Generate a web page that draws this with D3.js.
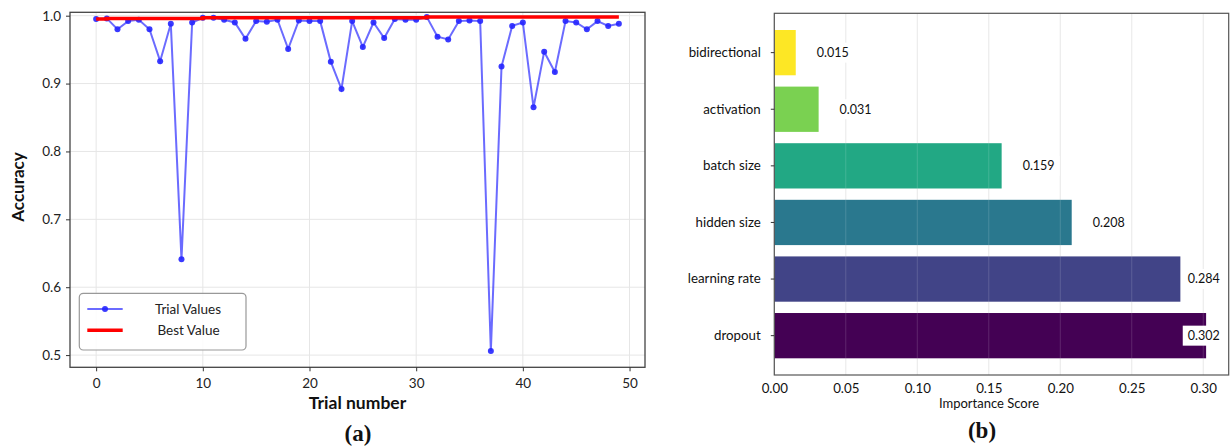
<!DOCTYPE html>
<html><head><meta charset="utf-8">
<script src="https://cdn.jsdelivr.net/npm/d3@7"></script>
<style>
html,body{margin:0;padding:0;background:#fff;}
svg{display:block;font-family:Lato,"Open Sans",sans-serif;}
</style></head>
<body>
<svg id="c" width="1232" height="447"></svg>
<script>
// ---- Data ----
const trialNumbers = d3.range(50);
const trialValues = [0.995,0.996,0.980,0.992,0.994,0.980,0.933,0.988,0.641,0.990,
  0.997,0.997,0.994,0.990,0.966,0.992,0.991,0.994,0.951,0.993,
  0.992,0.992,0.932,0.892,0.992,0.954,0.990,0.967,0.995,0.994,
  0.994,0.998,0.969,0.965,0.992,0.993,0.992,0.506,0.925,0.985,
  0.990,0.865,0.947,0.917,0.992,0.990,0.980,0.992,0.985,0.988];
const accTicks = [0.5,0.6,0.7,0.8,0.9,1.0];
const trialTicks = [0,10,20,30,40,50];
const params = ["bidirectional","activation","batch size","hidden size","learning rate","dropout"];
const importance = [0.015,0.031,0.159,0.208,0.284,0.302];
const barColors = ["#fde725","#7ad151","#22a884","#2a788e","#414487","#440154"];
const scoreTicks = [0.00,0.05,0.10,0.15,0.20,0.25,0.30];

const svg = d3.select("#c");

// ===== Left chart =====
const L = {x0:70, x1:645, y0:12.3, y1:367.3};
const x = d3.scaleLinear().domain([-2.45,51.45]).range([L.x0,L.x1]);
const y = d3.scaleLinear().domain([0.482,1.005]).range([L.y1,L.y0]);
const gl = svg.append("g");

// grid
gl.append("g").selectAll("line").data(trialTicks).join("line")
  .attr("x1",d=>x(d)).attr("x2",d=>x(d)).attr("y1",L.y0).attr("y2",L.y1)
  .attr("stroke","#e6e6e6").attr("stroke-width",1);
gl.append("g").selectAll("line").data(accTicks).join("line")
  .attr("x1",L.x0).attr("x2",L.x1).attr("y1",d=>y(d)).attr("y2",d=>y(d))
  .attr("stroke","#e6e6e6").attr("stroke-width",1);

// trial line
const pts = trialNumbers.map((t,i)=>[t,trialValues[i]]);
gl.append("path").datum(pts)
  .attr("d",d3.line().x(d=>x(d[0])).y(d=>y(d[1])))
  .attr("fill","none").attr("stroke","#3a3aff").attr("stroke-opacity",0.75).attr("stroke-width",2);
gl.append("g").selectAll("circle").data(pts).join("circle")
  .attr("cx",d=>x(d[0])).attr("cy",d=>y(d[1])).attr("r",3)
  .attr("fill","#2525ff").attr("fill-opacity",0.9);

// best value line (running maximum of the trial values)
let m = -Infinity;
const bestPts = pts.map(d=>{m=Math.max(m,d[1]);return [d[0],m];});
gl.append("path").datum(bestPts)
  .attr("d",d3.line().curve(d3.curveStepAfter).x(d=>x(d[0])).y(d=>y(d[1])))
  .attr("fill","none").attr("stroke","#ff0000").attr("stroke-width",3.5);

// frame
gl.append("rect").attr("x",L.x0).attr("y",L.y0).attr("width",L.x1-L.x0).attr("height",L.y1-L.y0)
  .attr("fill","none").attr("stroke","#444").attr("stroke-width",1.3);

// axes
const axB = gl.append("g").attr("transform",`translate(0,${L.y1})`)
  .call(d3.axisBottom(x).tickValues(trialTicks).tickSize(4).tickPadding(5).tickFormat(d3.format("d")));
const axL = gl.append("g").attr("transform",`translate(${L.x0},0)`)
  .call(d3.axisLeft(y).tickValues(accTicks).tickSize(4).tickPadding(5).tickFormat(d3.format(".1f")));
[axB,axL].forEach(a=>{
  a.select(".domain").remove();
  a.selectAll("line").attr("stroke","#333");
  a.selectAll("text").attr("fill","#222").style("font-size","13.5px").style("font-family","Lato");
});
axB.selectAll("text").attr("dy","0.9em");

gl.append("text").attr("x",(L.x0+L.x1)/2).attr("y",409).attr("text-anchor","middle")
  .style("font-size","17.5px").style("font-weight","bold").attr("fill","#111").text("Trial number");
gl.append("text").attr("transform","translate(24,187) rotate(-90)").attr("text-anchor","middle")
  .style("font-size","17px").style("font-weight","bold").attr("fill","#111").text("Accuracy");

// legend
const lg = gl.append("g");
lg.append("rect").attr("x",79.3).attr("y",293.3).attr("width",166.7).attr("height",56.7).attr("rx",4)
  .attr("fill","#fff").attr("fill-opacity",0.85).attr("stroke","#999").attr("stroke-width",1.2);
lg.append("line").attr("x1",87.3).attr("x2",122.7).attr("y1",309).attr("y2",309)
  .attr("stroke","#3a3aff").attr("stroke-opacity",0.75).attr("stroke-width",2);
lg.append("circle").attr("cx",105).attr("cy",309).attr("r",3).attr("fill","#2525ff").attr("fill-opacity",0.9);
lg.append("line").attr("x1",87.3).attr("x2",122.7).attr("y1",330.3).attr("y2",330.3)
  .attr("stroke","#ff0000").attr("stroke-width",3.5);
lg.append("text").attr("x",188).attr("y",309).attr("dy","0.35em").attr("text-anchor","middle")
  .style("font-size","13.5px").attr("fill","#222").text("Trial Values");
lg.append("text").attr("x",188.5).attr("y",330.3).attr("dy","0.35em").attr("text-anchor","middle")
  .style("font-size","13.5px").attr("fill","#222").text("Best Value");

svg.append("text").attr("x",358).attr("y",441).attr("text-anchor","middle")
  .style("font-family","'Liberation Serif',serif").style("font-size","23px").style("font-weight","bold")
  .attr("fill","#111").text("(a)");

// ===== Right chart =====
const R = {x0:774.3, x1:1228.7, y0:13.3, y1:375};
const xr = d3.scaleLinear().domain([0,0.3178]).range([R.x0,R.x1]);
const yr = d3.scaleBand().domain(params).range([R.y0,R.y1]).paddingInner(0.2).paddingOuter(0.295);
const gr = svg.append("g");

gr.append("g").selectAll("line").data(scoreTicks).join("line")
  .attr("x1",d=>xr(d)).attr("x2",d=>xr(d)).attr("y1",R.y0).attr("y2",R.y1)
  .attr("stroke","#e6e6e6").attr("stroke-width",1);

gr.append("g").selectAll("rect").data(params).join("rect")
  .attr("x",xr(0)).attr("y",d=>yr(d)).attr("height",yr.bandwidth())
  .attr("width",(d,i)=>xr(importance[i])-xr(0))
  .attr("fill",(d,i)=>barColors[i]);

// faint grid over bars
gr.append("g").selectAll("line").data(scoreTicks.slice(1)).join("line")
  .attr("x1",d=>xr(d)).attr("x2",d=>xr(d)).attr("y1",R.y0).attr("y2",R.y1)
  .attr("stroke","#ffffff").attr("stroke-opacity",0.15).attr("stroke-width",1);

// value labels
const lab = gr.append("g");
params.forEach((p,i)=>{
  const cy = yr(p)+yr.bandwidth()/2;
  const bg = lab.append("rect").attr("fill","#fff");
  const t = lab.append("text").attr("y",cy).attr("dy","0.35em")
    .style("font-size","12.5px").attr("fill","#111").text(importance[i].toFixed(3));
  const w = t.node().getComputedTextLength();
  let tx = xr(importance[i]) + 21;
  if (tx + w > R.x1 - 9) tx = R.x1 - 9 - w;
  t.attr("x",tx);
  bg.attr("x",tx-5).attr("y",cy-10).attr("width",w+10).attr("height",20);
});

gr.append("rect").attr("x",R.x0).attr("y",R.y0).attr("width",R.x1-R.x0).attr("height",R.y1-R.y0)
  .attr("fill","none").attr("stroke","#555").attr("stroke-width",1.2);

const arB = gr.append("g").attr("transform",`translate(0,${R.y1})`)
  .call(d3.axisBottom(xr).tickValues(scoreTicks).tickSize(0).tickPadding(6).tickFormat(d3.format(".2f")));
const arL = gr.append("g").attr("transform",`translate(${R.x0},0)`)
  .call(d3.axisLeft(yr).tickSize(3.5).tickPadding(10));
[arB,arL].forEach(a=>{
  a.select(".domain").remove();
  a.selectAll("line").attr("stroke","#333");
  a.selectAll("text").attr("fill","#111").style("font-size","13.3px").style("font-family","Lato");
});
arB.selectAll("text").attr("dy","0.9em");

gr.append("text").attr("x",989).attr("y",403.5).attr("dy","0.35em").attr("text-anchor","middle")
  .style("font-size","13px").attr("fill","#111").text("Importance Score");

svg.append("text").attr("x",982).attr("y",438).attr("text-anchor","middle")
  .style("font-family","'Liberation Serif',serif").style("font-size","23px").style("font-weight","bold")
  .attr("fill","#111").text("(b)");
</script>
</body></html>
